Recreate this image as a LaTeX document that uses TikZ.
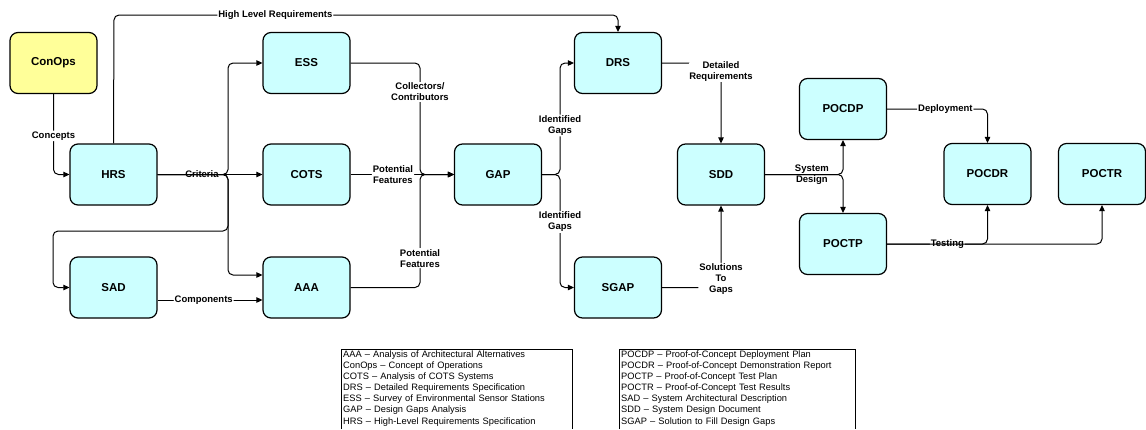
\documentclass[tikz,border=0pt]{standalone}
\usepackage{fontspec}
\setmainfont{Liberation Sans}
\usetikzlibrary{arrows.meta}
\definecolor{doccyan}{HTML}{CCFFFF}
\definecolor{docyellow}{HTML}{FFFF99}
\tikzstyle{doc}=[draw, line width=1.2pt, rounded corners=8pt, fill=doccyan, minimum width=87pt, minimum height=61pt, font=\fontsize{11.5}{13}\selectfont\bfseries]
\tikzstyle{flow}=[line width=1pt, rounded corners=5pt]
\tikzstyle{flowto}=[flow, -{Triangle[length=6pt,width=5.5pt]}]
\tikzstyle{lbl}=[fill=white, inner sep=1pt, align=center, font=\fontsize{9.5}{11}\selectfont\bfseries]
\tikzstyle{lblclear}=[lbl, fill=none]
\tikzstyle{legend}=[anchor=north west, align=left, inner xsep=2pt, inner ysep=1.5pt, font=\fontsize{9.3}{11.1}\selectfont]

\begin{document}
\begin{tikzpicture}[x=1pt, y=-1pt]
\useasboundingbox (0,0) rectangle (1146,429);
% Documents
    \node[doc, fill=docyellow] (conops) at (53.5,63) {ConOps};
    \node[doc] (hrs) at (113.5,174.5) {HRS};
    \node[doc] (ess) at (306.5,63) {ESS};
    \node[doc] (cots) at (306.5,174.5) {COTS};
    \node[doc] (sad) at (113.5,287.5) {SAD};
    \node[doc] (aaa) at (306.5,287.5) {AAA};
    \node[doc] (gap) at (498,174.5) {GAP};
    \node[doc] (drs) at (618,63) {DRS};
    \node[doc] (sgap) at (618,287.5) {SGAP};
    \node[doc] (sdd) at (721,174.5) {SDD};
    \node[doc] (pocdp) at (843,109) {POCDP};
    \node[doc] (poctp) at (843,244) {POCTP};
    \node[doc] (pocdr) at (987.5,174) {POCDR};
    \node[doc] (poctr) at (1102,174) {POCTR};
% Bends and joins
    \coordinate (hlr) at (114,15);
    \coordinate (crit) at (228,174.5);
    \coordinate (sadturn) at (228,231);
    \coordinate (sadin) at (53,287.5);
    \coordinate (coll) at (420,174.5);
    \coordinate (idgaps) at (560,174.5);
    \coordinate (bot) at (0,429);
% Requirements
    \draw[flowto] (conops.south) |- node[lbl, pos=0.26] (concepts) {Concepts} (hrs.west);
    \draw[flowto] (hrs.north) -- (hlr) -| node[lbl, pos=0.16] (hlrtext) {High Level Requirements} (drs.north);
    \draw[flow] (hrs.east) -- node[lbl, pos=0.63] (criteria) {Criteria} (crit);
    \draw[flowto] (hrs.east) -- (crit) |- (ess.west);
    \draw[flowto] (hrs.east) -- (cots.west);
    \draw[flowto] (hrs.east) -- (crit) |- ([yshift=12.5pt]aaa.west);
    \draw[flowto] (hrs.east) -- (crit) -- (sadturn) -| (sadin) -- (sad.west);
    \draw[flowto] ([yshift=-12.5pt]sad.east) -- node[lbl, pos=0.44] (components) {Components} ([yshift=-12.5pt]aaa.west);
% Gap analysis
    \draw[flowto] (ess.east) -| node[lbl, pos=0.63] (collectors) {Collectors/\\Contributors} (coll) -- (gap.west);
    \draw[flowto] (cots.east) -- node[lbl, pos=0.41] (potfeat1) {Potential\\Features} (gap.west);
    \draw[flowto] (aaa.east) -| node[lbl, pos=0.63] (potfeat2) {Potential\\Features} (coll) -- (gap.west);
    \draw[flowto] (gap.east) -- (idgaps) |- node[lbl, pos=0.22] (idgaps1) {Identified\\Gaps} (drs.west);
    \draw[flowto] (gap.east) -- (idgaps) |- node[lbl, pos=0.21] (idgaps2) {Identified\\Gaps} (sgap.west);
% Design
    \draw[flowto] (drs.east) -| node[lbl, pos=0.55] (detreq) {Detailed\\Requirements} (sdd.north);
    \draw[flowto] (sgap.east) -| node[lbl, pos=0.55] (solutions) {Solutions\\To\\Gaps} (sdd.south);
    \draw[flowto] (sdd.east) -| node[lblclear, pos=0.3] (sysdesign) {System\\Design} (pocdp.south);
    \draw[flowto] (sdd.east) -| (poctp.north);
% Proof of concept
    \draw[flowto] (pocdp.east) -| node[lbl, pos=0.29] (deploy) {Deployment} (pocdr.north);
    \draw[flowto] (poctp.east) -| node[lbl, pos=0.3] (testing) {Testing} (pocdr.south);
    \draw[flowto] (poctp.east) -| (poctr.south);
% Legend
    \node[legend, text width=227pt] (legl) at (341,349) {AAA – Analysis of Architectural Alternatives\\
        ConOps – Concept of Operations\\
        COTS – Analysis of COTS Systems\\
        DRS – Detailed Requirements Specification\\
        ESS – Survey of Environmental Sensor Stations\\
        GAP – Design Gaps Analysis\\
        HRS – High-Level Requirements Specification};
    \node[legend, text width=232pt] (legr) at (619,349) {POCDP – Proof-of-Concept Deployment Plan\\
        POCDR – Proof-of-Concept Demonstration Report\\
        POCTP – Proof-of-Concept Test Plan\\
        POCTR – Proof-of-Concept Test Results\\
        SAD – System Architectural Description\\
        SDD – System Design Document\\
        SGAP – Solution to Fill Design Gaps};
    \draw[line width=0.7pt] (legl.south west |- bot) |- (legl.north east) -- (legl.north east |- bot);
    \draw[line width=0.7pt] (legr.south west |- bot) |- (legr.north east) -- (legr.north east |- bot);
\end{tikzpicture}
\end{document}
